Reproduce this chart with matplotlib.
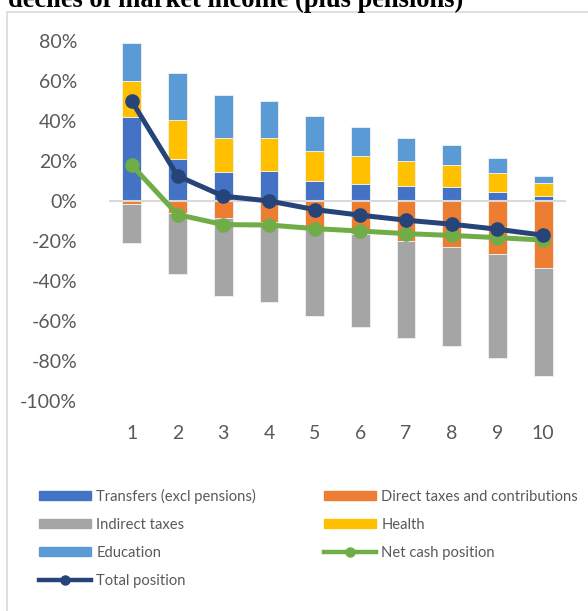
import matplotlib
matplotlib.use('Agg')
import matplotlib.pyplot as plt
from matplotlib.patches import Rectangle, Patch
from matplotlib.lines import Line2D
from matplotlib.ticker import FuncFormatter
import numpy as np

# data (percent of market income)
deciles = [1, 2, 3, 4, 5, 6, 7, 8, 9, 10]
transfers = [42.0, 20.8, 14.6, 15.1, 10.0, 8.6, 7.6, 6.9, 4.7, 2.6]
health = [18.0, 19.5, 17.0, 16.5, 15.1, 13.8, 12.3, 11.2, 9.1, 6.2]
education = [19.0, 23.4, 21.2, 18.1, 17.3, 14.5, 11.7, 9.7, 7.7, 3.7]
direct_taxes = [-1.3, -6.0, -8.3, -10.5, -13.6, -16.3, -20.1, -22.9, -26.6, -33.4]
indirect_taxes = [-19.7, -30.3, -38.9, -39.7, -43.8, -46.6, -48.1, -49.2, -51.9, -54.0]
net_cash = [17.8, -6.8, -11.8, -12.0, -13.8, -15.0, -16.3, -17.2, -18.3, -19.5]
total_pos = [49.7, 12.5, 2.4, 0.0, -4.3, -7.1, -9.6, -11.6, -14.1, -17.1]

title = "deciles of market income (plus pensions)"

c_transfers = '#4472C4'
c_direct = '#ED7D31'
c_indirect = '#A5A5A5'
c_health = '#FFC000'
c_edu = '#5B9BD5'
c_net = '#70AD47'
c_total = '#264478'
txt_grey = '#595959'

W, H = 588, 611
fig = plt.figure(figsize=(W / 100, H / 100), dpi=100)
plt.rcParams['font.family'] = ['Lato', 'DejaVu Sans']

# chart border (runs off the right and bottom edge)
fig.patches.append(Rectangle((7 / W, -0.1), 1.2, 1 - 12 / H + 0.1,
                             transform=fig.transFigure, fill=False,
                             edgecolor='#d9d9d9', lw=1.2))

fig.text(8 / W, 1 - 7 / H, title, fontsize=19.1, fontweight='bold',
         family='Liberation Serif', va='baseline', ha='left')

ax = fig.add_axes([109 / W, 1 - 401.5 / H, (566 - 109) / W, (401.5 - 40.5) / H])

x = np.array(deciles)
bw = 0.41
tr = np.array(transfers)
he = np.array(health)
ed = np.array(education)
dt = np.array(direct_taxes)
it = np.array(indirect_taxes)

ekw = dict(edgecolor='#f2f2f2', linewidth=0.6)
ax.bar(x, tr, bw, color=c_transfers, **ekw)
ax.bar(x, dt, bw, color=c_direct, **ekw)
ax.bar(x, it, bw, bottom=dt, color=c_indirect, **ekw)
ax.bar(x, he, bw, bottom=tr, color=c_health, **ekw)
ax.bar(x, ed, bw, bottom=tr + he, color=c_edu, **ekw)

ax.axhline(0, color='#d9d9d9', lw=1.5, zorder=1.5)

ax.plot(x, net_cash, color=c_net, lw=3.6, marker='o', markersize=9.5, zorder=4)
ax.plot(x, total_pos, color=c_total, lw=3.6, marker='o', markersize=9.5, zorder=5)

ax.set_xlim(0.5, 10.5)
ax.set_ylim(-100, 80)
ax.set_yticks(np.arange(-100, 81, 20))
ax.yaxis.set_major_formatter(FuncFormatter(lambda v, p: '%d%%' % v))
ax.set_xticks(x)
ax.set_xticklabels([str(d) for d in deciles])
for s in ax.spines.values():
    s.set_visible(False)
ax.tick_params(axis='y', length=0, pad=23, labelsize=14, labelcolor=txt_grey)
ax.tick_params(axis='x', length=0, pad=17, labelsize=14, labelcolor=txt_grey)

handles = [
    Patch(color=c_transfers, label='Transfers (excl pensions)'),
    Patch(color=c_indirect, label='Indirect taxes'),
    Patch(color=c_edu, label='Education'),
    Line2D([], [], color=c_total, lw=3.2, marker='o', markersize=6.5, label='Total position'),
    Patch(color=c_direct, label='Direct taxes and contributions'),
    Patch(color=c_health, label='Health'),
    Line2D([], [], color=c_net, lw=3.2, marker='o', markersize=6.5, label='Net cash position'),
]
leg = fig.legend(handles=handles, ncol=2, loc='upper left',
                 bbox_to_anchor=(39 / W, 1 - 488.6 / H), frameon=False,
                 fontsize=10.6, handlelength=3.53, handleheight=0.56,
                 handletextpad=0.36, labelspacing=0.95, columnspacing=4.62,
                 borderaxespad=0, borderpad=0)
for t in leg.get_texts():
    t.set_color(txt_grey)

fig.savefig('out.png', dpi=100)
